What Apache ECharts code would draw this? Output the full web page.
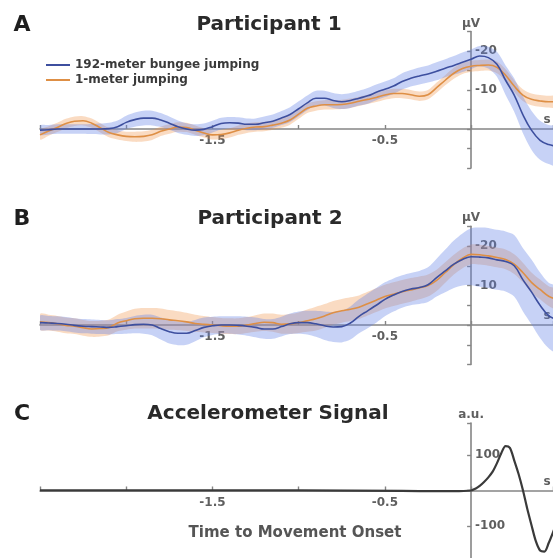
<!DOCTYPE html>
<html><head><meta charset="utf-8">
<script src="https://cdn.jsdelivr.net/npm/echarts/dist/echarts.min.js"></script>
<style>html,body{margin:0;padding:0;background:#fff}#c{width:553px;height:558px}</style>
</head><body><div id="c"></div>
<script>
// ---------- data ----------
const time = [-2.5,-2.45,-2.4,-2.35,-2.3,-2.25,-2.2,-2.15,-2.1,-2.05,-2.0,-1.95,-1.9,-1.85,-1.8,-1.75,-1.7,-1.65,-1.6,-1.55,-1.5,-1.45,-1.4,-1.35,-1.3,-1.25,-1.2,-1.15,-1.1,-1.05,-1.0,-0.95,-0.9,-0.85,-0.8,-0.75,-0.7,-0.65,-0.6,-0.55,-0.5,-0.45,-0.4,-0.35,-0.3,-0.25,-0.2,-0.15,-0.1,-0.05,0,0.05,0.1,0.15,0.2,0.25,0.3,0.35,0.4,0.45,0.5];

const p1Bungee = [0.3,0.2,0,0,0,0,0,0,-0.1,-0.6, -1.7,-2.4,-2.8,-2.8,-2.3,-1.5,-0.6,0,0.3,0.1, -0.6,-1.4,-1.6,-1.5,-1.2,-1.2,-1.6,-2.0,-2.8,-3.7, -5.2,-6.7,-7.9,-7.9,-7.3,-7.0,-7.3,-7.9,-8.5,-9.4, -10.2,-11.0,-12.2,-13.0,-13.6,-14.1,-14.8,-15.6,-16.3,-17.1, -17.9,-18.7,-18.3,-16.6,-12.5,-8.7,-3.7,0.3,2.9,4.0,4.4];
const p1BungeeSE = [1.2,1.2,1.2,1.2,1.2,1.2,1.3,1.4,1.5,1.6, 1.7,1.8,1.9,1.9,1.8,1.7,1.6,1.5,1.5,1.5, 1.5,1.5,1.5,1.5,1.5,1.5,1.6,1.7,1.8,1.9, 1.9,1.9,1.9,1.9,1.9,1.9,1.9,1.9,2.0,2.0, 2.0,2.0,2.1,2.1,2.2,2.2,2.3,2.3,2.4,2.5, 2.5,2.6,2.8,3.2,3.8,4.3,4.7,5.0,5.0,5.0,5.0];
const p1Control = [1.5,0.5,-0.4,-1.4,-2.0,-2.1,-1.5,-0.3,0.9,1.5, 1.9,2.0,1.9,1.5,0.6,0,-0.5,-0.4,0.3,1.0, 1.5,1.4,1.0,0.3,-0.2,-0.5,-0.6,-1.0,-1.5,-2.3, -3.8,-5.3,-5.9,-6.2,-6.2,-6.3,-6.6,-7.1,-7.6,-8.1, -8.7,-9.1,-9.1,-8.8,-8.4,-8.8,-10.6,-12.5,-14.3,-15.5, -16.1,-16.3,-16.4,-15.8,-13.8,-11.0,-8.7,-7.6,-7.2,-7.0,-7.0];
const p1ControlSE = [1.2,1.2,1.2,1.2,1.2,1.2,1.2,1.2,1.2,1.2, 1.2,1.3,1.3,1.3,1.2,1.2,1.2,1.2,1.2,1.2, 1.2,1.2,1.2,1.2,1.2,1.2,1.2,1.2,1.2,1.2, 1.2,1.2,1.2,1.2,1.2,1.2,1.2,1.2,1.2,1.2, 1.2,1.2,1.2,1.2,1.2,1.2,1.3,1.3,1.4,1.4, 1.4,1.4,1.4,1.5,1.5,1.5,1.5,1.5,1.5,1.5,1.5];

const p2Bungee = [-0.6,-0.5,-0.4,-0.2,0.1,0.3,0.4,0.5,0.6,0.4, 0.2,-0.1,-0.2,0,0.9,1.7,2.1,2.1,1.4,0.6, 0.2,0,0,0.1,0.3,0.6,1.0,1.0,0.4,-0.3, -0.6,-0.6,-0.3,0.2,0.5,0.4,-0.5,-2.2,-3.6,-5.0, -6.5,-7.6,-8.5,-9.1,-9.5,-10.2,-12.0,-13.7,-15.4,-16.6, -17.3,-17.2,-17.0,-16.5,-16.1,-15.0,-11.5,-8.4,-5.0,-2.4,-1.3];
const p2BungeeSE = [1.8,1.8,1.8,1.8,1.8,1.8,1.8,1.8,1.8,1.9, 2.0,2.2,2.4,2.6,2.8,3.0,3.0,2.9,2.7,2.5, 2.3,2.2,2.2,2.3,2.4,2.5,2.5,2.5,2.5,2.6, 2.8,3.0,3.3,3.6,3.8,4.0,4.2,4.3,4.4,4.4, 4.3,4.2,4.1,4.1,4.2,4.4,4.8,5.4,6.0,6.6, 7.2,7.5,7.6,7.6,7.6,7.8,8.0,8.2,8.3,8.3,8.3];
const p2Control = [-0.8,-0.6,-0.3,0.1,0.3,0.7,1.0,0.9,0.6,-0.5, -1.1,-1.6,-1.7,-1.7,-1.6,-1.3,-1.1,-0.8,-0.4,-0.2, 0,0.2,0.3,0.3,0,-0.4,-0.7,-0.6,-0.2,-0.3, -0.6,-1.1,-1.6,-2.3,-3.1,-3.6,-4.0,-4.5,-5.4,-6.3, -7.2,-7.8,-8.4,-8.9,-9.4,-10.0,-11.3,-13.3,-15.3,-16.9, -17.9,-17.8,-17.5,-17.1,-16.6,-15.4,-13.3,-10.8,-9.0,-7.3,-6.5];
const p2ControlSE = [2.0,2.0,2.0,2.0,2.0,2.0,2.0,2.0,2.0,2.1, 2.3,2.5,2.6,2.6,2.6,2.5,2.4,2.3,2.2,2.1, 2.0,2.0,2.0,2.0,2.0,2.1,2.2,2.3,2.4,2.5, 2.6,2.8,3.0,3.0,3.0,3.0,3.0,3.0,3.0,3.0, 3.0,3.0,3.0,3.0,2.9,2.8,2.7,2.6,2.5,2.5, 2.5,2.5,2.5,2.5,2.5,2.5,2.5,2.5,2.5,2.5,2.5];

const accTime = [-2.5,-1.0,-0.4,-0.2,-0.1,0,0.025,0.05,0.075,0.1,0.125,0.15,0.175,0.2,0.225,0.25,0.275,0.3,0.325,0.35,0.375,0.4,0.425,0.45,0.475,0.5];
const accValue = [0,0,-1,-2,-2,0,5,13,24,37,53,77,105,125,120,85,47,2,-50,-97,-142,-169,-172,-148,-118,-85];

const seriesNames = ['192-meter bungee jumping', '1-meter jumping'];
const panelLetters = ['A', 'B', 'C'];
const panelTitles = ['Participant 1', 'Participant 2', 'Accelerometer Signal'];
const xAxisTitle = 'Time to Movement Onset';
const xTickLabels = ['-1.5', '-0.5'];
const eegTickLabels = ['-20', '-10'];
const accTickLabels = ['100', '-100'];

// ---------- styles ----------
const FONT = 'DejaVu Sans';
const BLUE = '#3d4f9f', ORANGE = '#de8f45';
const BLUE_BAND = 'rgba(100,130,230,0.36)', ORANGE_BAND = 'rgba(240,145,70,0.33)';
const AXIS = '#858585';
const LABEL = '#5f5f5f';

const zip = (xs, ys) => xs.map((x, i) => [x, ys[i]]);

function band(idx, mean, se, color) {
  return {
    type: 'custom', xAxisIndex: idx, yAxisIndex: idx, silent: true, z: 1, clip: true,
    data: [[0, 0]],
    renderItem: function (params, api) {
      const pts = [];
      for (let i = 0; i < time.length; i++) pts.push(api.coord([time[i], mean[i] - se[i]]));
      for (let i = time.length - 1; i >= 0; i--) pts.push(api.coord([time[i], mean[i] + se[i]]));
      return { type: 'polygon', shape: { points: pts, smooth: 0.3 }, style: { fill: color } };
    }
  };
}
function line(idx, name, xs, ys, color, width, smooth) {
  return {
    type: 'line', name: name, xAxisIndex: idx, yAxisIndex: idx, data: zip(xs, ys),
    symbol: 'none', showSymbol: false, smooth: smooth, z: 3,
    lineStyle: { color: color, width: width }, itemStyle: { color: color }
  };
}
function xAxis(idx) {
  return {
    gridIndex: idx, type: 'value', min: -2.5, max: 0.475, interval: 0.5, offset: 0,
    axisLine: { onZero: false, lineStyle: { color: AXIS, width: 1.6 } },
    axisTick: { inside: true, length: 4, lineStyle: { color: AXIS, width: 1.4 } },
    axisLabel: { margin: 6, color: LABEL, fontSize: 12, fontWeight: 'bold', fontFamily: FONT,
      formatter: v => xTickLabels.includes(String(v)) ? String(v) : '' },
    splitLine: { show: false },
    name: 's', nameLocation: 'end', nameGap: -6, nameMoveOverlap: false,
    nameTextStyle: { align: 'center', verticalAlign: 'bottom', padding: [0, 0, 3, 0],
      color: LABEL, fontSize: 12, fontWeight: 'bold', fontFamily: FONT }
  };
}
function yAxis(idx, opts) {
  return Object.assign({
    gridIndex: idx, type: 'value', offset: 0,
    axisLine: { show: true, onZero: false, lineStyle: { color: AXIS, width: 1.6 } },
    axisTick: { show: true, inside: false, length: 4, lineStyle: { color: AXIS, width: 1.4 } },
    splitLine: { show: false }, nameMoveOverlap: false,
    nameTextStyle: { color: LABEL, fontSize: 12, fontWeight: 'bold', fontFamily: FONT }
  }, opts);
}
const ylab = (list) => ({ inside: true, margin: 4, color: LABEL, fontSize: 12, fontWeight: 'bold', fontFamily: FONT,
  formatter: v => list.includes(String(v)) ? String(v) : '' });

function txt(x, y, s, size, color) {
  return { type: 'text', x: x, y: y, silent: true,
    style: { text: s, align: 'center', verticalAlign: 'middle', fill: color,
      font: 'bold ' + size + 'px "' + FONT + '"' } };
}

const grids = [
  { left: 40, right: 0, top: 31.5, height: 136.5, outerBoundsMode: 'none', containLabel: false },
  { left: 40, right: 0, top: 226.3, height: 138.2, outerBoundsMode: 'none', containLabel: false },
  { left: 40, right: 0, top: 423, height: 138.5, outerBoundsMode: 'none', containLabel: false }
];
const xAxes = [xAxis(0), xAxis(1), xAxis(2)];
const yAxes = [
  yAxis(0, { min: -25, max: 10, interval: 5, inverse: true, axisLabel: ylab(eegTickLabels),
    name: 'μV', nameLocation: 'start', nameGap: 2 }),
  yAxis(1, { min: -25, max: 10, interval: 5, inverse: true, axisLabel: ylab(eegTickLabels),
    name: 'μV', nameLocation: 'start', nameGap: 2 }),
  yAxis(2, { min: -200, max: 190, interval: 100, axisLabel: ylab(accTickLabels),
    name: 'a.u.', nameLocation: 'end', nameGap: 2 })
];

const chart = echarts.init(document.getElementById('c'), null, { renderer: 'canvas' });
chart.setOption({
  backgroundColor: '#fff',
  animation: false,
  grid: grids,
  xAxis: xAxes,
  yAxis: yAxes,
  legend: {
    data: seriesNames, orient: 'vertical', left: 46, top: 59, padding: 0,
    itemWidth: 24, itemHeight: 2, itemGap: 3, icon: 'rect',
    textStyle: { fontSize: 12, fontWeight: 'bold', fontFamily: FONT, color: '#3a3a3a' }
  },
  graphic: [
    txt(22, 25, panelLetters[0], 22, '#1e1e1e'),
    txt(269, 25, panelTitles[0], 20, '#2a2a2a'),
    txt(22, 219, panelLetters[1], 22, '#1e1e1e'),
    txt(270, 219, panelTitles[1], 20, '#2a2a2a'),
    txt(22, 414, panelLetters[2], 22, '#1e1e1e'),
    txt(268, 414, panelTitles[2], 20, '#2a2a2a'),
    txt(295, 533, xAxisTitle, 15, '#555')
  ],
  series: [
    band(0, p1Control, p1ControlSE, ORANGE_BAND),
    band(0, p1Bungee, p1BungeeSE, BLUE_BAND),
    line(0, seriesNames[1], time, p1Control, ORANGE, 1.6, 0.4),
    line(0, seriesNames[0], time, p1Bungee, BLUE, 1.6, 0.4),
    band(1, p2Control, p2ControlSE, ORANGE_BAND),
    band(1, p2Bungee, p2BungeeSE, BLUE_BAND),
    line(1, seriesNames[1], time, p2Control, ORANGE, 1.6, 0.4),
    line(1, seriesNames[0], time, p2Bungee, BLUE, 1.6, 0.4),
    line(2, 'Accelerometer', accTime, accValue, '#3a3a3a', 2.2, 0.3)
  ]
});

// Move the axes so that they cross at the origin, using the library's own scales.
const newX = [], newY = [];
for (let i = 0; i < 3; i++) {
  const origin = chart.convertToPixel({ gridIndex: i }, [0, 0]);
  const rect = chart.getModel().getComponent('grid', i).coordinateSystem.getRect();
  newX.push({ offset: origin[1] - (rect.y + rect.height) });
  newY.push({ offset: rect.x - origin[0] });
}
chart.setOption({ xAxis: newX, yAxis: newY });
</script></body></html>
